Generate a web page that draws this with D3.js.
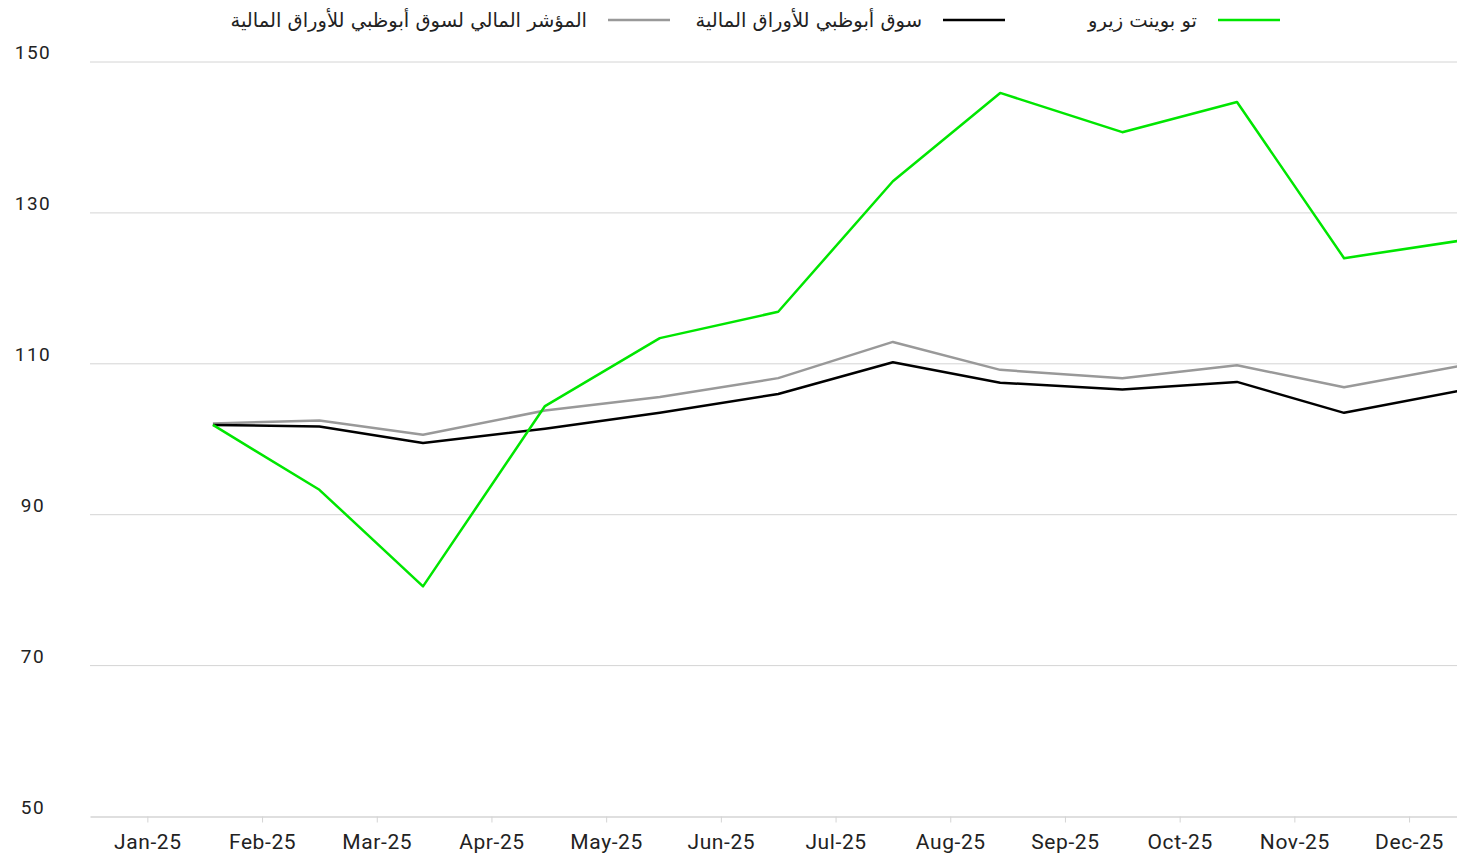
<!DOCTYPE html>
<html>
<head>
<meta charset="utf-8">
<script src="https://cdn.jsdelivr.net/npm/d3@7/dist/d3.min.js"></script>
<style>
  body { margin: 0; background: #fff; }
  #chart { width: 1457px; height: 863px; }
</style>
</head>
<body>
<div id="chart"></div>
<script>
var months = ['Jan-25', 'Feb-25', 'Mar-25', 'Apr-25', 'May-25', 'Jun-25',
	'Jul-25', 'Aug-25', 'Sep-25', 'Oct-25', 'Nov-25', 'Dec-25'];
var dates = ['2025-02-02', '2025-02-28', '2025-03-28', '2025-04-29', '2025-05-30', '2025-06-30',
	'2025-07-31', '2025-08-29', '2025-09-30', '2025-10-31', '2025-11-28', '2025-12-29'];
var twoPointZero = [101.9, 93.3, 80.5, 104.4, 113.4, 116.9, 134.2, 145.9, 140.7, 144.7, 124.0, 126.3];
var adx = [101.9, 101.7, 99.5, 101.4, 103.5, 106.0, 110.2, 107.5, 106.6, 107.6, 103.5, 106.4];
var adxFinancial = [102.1, 102.5, 100.6, 103.8, 105.6, 108.1, 112.9, 109.2, 108.1, 109.8, 106.9, 109.7];
var yTicks = [50, 70, 90, 110, 130, 150];

var series = [
	{ name: 'تو بوينت زيرو', values: twoPointZero, color: '#00e600' },
	{ name: 'سوق أبوظبي للأوراق المالية', values: adx, color: '#000000' },
	{ name: 'المؤشر المالي لسوق أبوظبي للأوراق المالية', values: adxFinancial, color: '#999999' }
];

var id = 'chart';
var chartW = 1457, chartH = 863;
var plotLeft = 90, plotBottom = 816.5, plotTop = 62;
var step = 114.7;

var svg = d3.select('#' + id)
	.append('svg')
	.attr('width', chartW)
	.attr('height', chartH)
	.style('background-color', '#fff');

// month position: month index + fraction of the month
function monthPos(s) {
	var d = d3.timeParse('%Y-%m-%d')(s);
	var days = new Date(d.getFullYear(), d.getMonth() + 1, 0).getDate();
	return d.getMonth() + d.getDate() / days;
}

var x = d3.scaleLinear().domain([0, 12]).range([plotLeft, plotLeft + 12 * step]);
var y = d3.scaleLinear().domain([50, 150]).range([plotBottom, plotTop]);

// gridlines
svg.append('g')
	.selectAll('line')
	.data(yTicks.slice(1))
	.enter().append('line')
	.attr('x1', plotLeft)
	.attr('x2', chartW)
	.attr('y1', function(d) { return y(d); })
	.attr('y2', function(d) { return y(d); })
	.style('stroke', '#d4d4d4')
	.style('stroke-width', 1);

// y labels
svg.append('g')
	.selectAll('text')
	.data(yTicks)
	.enter().append('text')
	.attr('x', 33)
	.attr('y', function(d) { return y(d) - 3; })
	.attr('text-anchor', 'middle')
	.style('font-family', 'Roboto, sans-serif')
	.style('font-size', '19px')
	.style('letter-spacing', '1.5px')
	.style('fill', '#222')
	.text(function(d) { return d; });

// x axis
var xAxis = d3.axisBottom(x)
	.tickValues(d3.range(12).map(function(i) { return i + 0.5; }))
	.tickFormat(function(d) { return months[Math.floor(d)]; })
	.tickSizeOuter(0)
	.tickSizeInner(6)
	.tickPadding(12);

var gx = svg.append('g')
	.attr('transform', 'translate(0,' + plotBottom + ')')
	.call(xAxis);
gx.select('.domain').style('stroke', '#d4d4d4').style('stroke-width', 1.5);
gx.selectAll('.tick line').style('stroke', '#d4d4d4');
gx.selectAll('.tick text')
	.style('font-family', 'Roboto, sans-serif')
	.style('font-size', '21px')
	.style('letter-spacing', '0.6px')
	.style('fill', '#222');

// lines
var line = d3.line()
	.x(function(d, i) { return x(monthPos(dates[i])); })
	.y(function(d) { return y(d); });

series.slice().reverse().forEach(function(s) {
	svg.append('path')
		.datum(s.values)
		.attr('d', line)
		.style('fill', 'none')
		.style('stroke', s.color)
		.style('stroke-width', 2.5)
		.style('stroke-linejoin', 'round');
});

// legend
var legendX = [1280, 1005, 670];
var legend = svg.append('g')
	.selectAll('g')
	.data(series)
	.enter().append('g')
	.attr('transform', function(d, i) { return 'translate(' + legendX[i] + ',20)'; });

legend.append('line')
	.attr('x1', -62)
	.attr('x2', 0)
	.style('stroke', function(d) { return d.color; })
	.style('stroke-width', 2.5);

legend.append('text')
	.attr('x', -83)
	.attr('y', 7)
	.attr('direction', 'rtl')
	.attr('text-anchor', 'start')
	.style('font-family', '"DejaVu Sans", sans-serif')
	.style('font-size', '19.5px')
	.style('fill', '#222')
	.text(function(d) { return d.name; });
</script>
</body>
</html>
